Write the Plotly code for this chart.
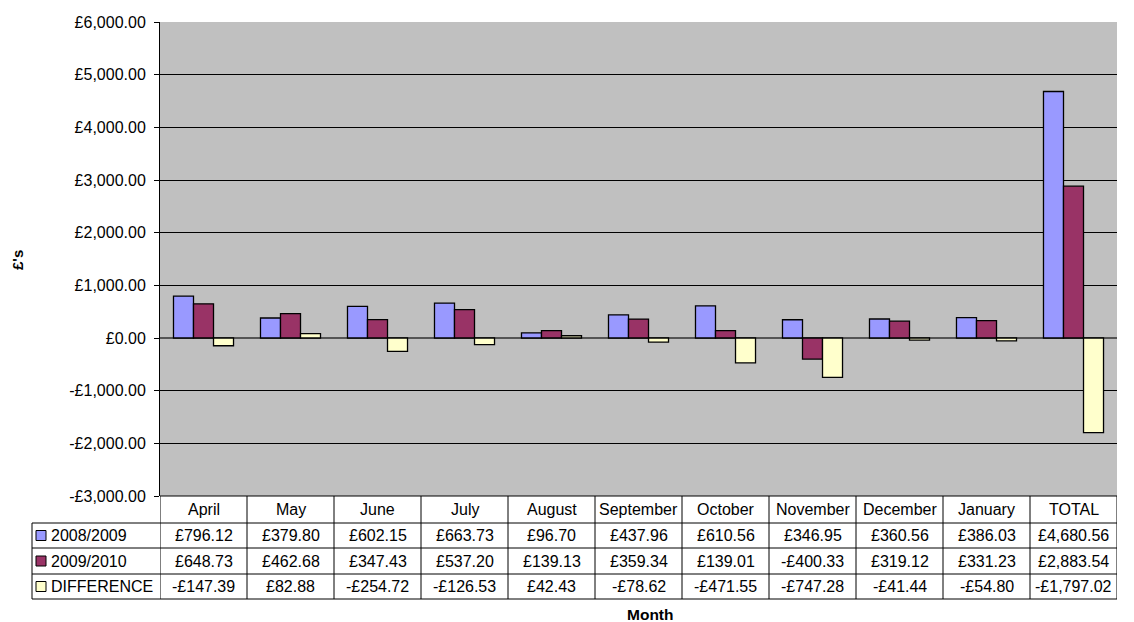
import plotly.graph_objects as go

months = ["April", "May", "June", "July", "August", "September", "October",
          "November", "December", "January", "TOTAL"]
y0809 = [796.12, 379.80, 602.15, 663.73, 96.70, 437.96, 610.56, 346.95, 360.56, 386.03, 4680.56]
y0910 = [648.73, 462.68, 347.43, 537.20, 139.13, 359.34, 139.01, -400.33, 319.12, 331.23, 2883.54]
ydiff = [-147.39, 82.88, -254.72, -126.53, 42.43, -78.62, -471.55, -747.28, -41.44, -54.80, -1797.02]
series_names = ["2008/2009", "2009/2010", "DIFFERENCE"]
colors = ["#9999FF", "#993366", "#FFFFCC"]
ytick_vals = [-3000, -2000, -1000, 0, 1000, 2000, 3000, 4000, 5000, 6000]


def gbp(v):
    s = "£{:,.2f}".format(abs(v))
    return "-" + s if v < 0 else s


W, H = 1134, 622
PL, PR, PT, PB = 160, 1117, 22, 496  # plot area in page pixels
L, R, T, B = PL, W - PR, PT, H - PB
PW, PH = PR - PL, PB - PT
FONT = "Liberation Sans, Arial, sans-serif"
FS = 16


def px_x(px):
    return (px - PL) / PW


def px_y(py):
    return (PB - py) / PH


fig = go.Figure()
for name, vals, col in zip(series_names, [y0809, y0910, ydiff], colors):
    fig.add_trace(go.Bar(x=months, y=vals, name=name, marker_color=col,
                         marker_line_color="black", marker_line_width=1.3))

shapes = []
annotations = []

row_edges = [496, 523, 548, 574, 599]
left_px = 32
n = len(months)
line = dict(color="black", width=1)

shapes.append(dict(type="line", xref="paper", yref="paper", x0=0, x1=1,
                   y0=px_y(row_edges[0]), y1=px_y(row_edges[0]), line=line))
for e in row_edges[1:]:
    shapes.append(dict(type="line", xref="paper", yref="paper", x0=px_x(left_px), x1=1,
                       y0=px_y(e), y1=px_y(e), line=line))
for i in range(n + 1):
    shapes.append(dict(type="line", xref="x", yref="paper", x0=i - 0.5, x1=i - 0.5,
                       y0=px_y(row_edges[0]), y1=px_y(row_edges[-1]), line=line))
shapes.append(dict(type="line", xref="paper", yref="paper", x0=px_x(left_px), x1=px_x(left_px),
                   y0=px_y(row_edges[1]), y1=px_y(row_edges[-1]), line=line))

hc = (row_edges[0] + row_edges[1]) / 2
for m in months:
    annotations.append(dict(x=m, y=px_y(hc), xref="x", yref="paper", text=m, showarrow=False,
                            font=dict(size=FS, color="black", family=FONT), yanchor="middle"))

for r, (name, vals, col) in enumerate(zip(series_names, [y0809, y0910, ydiff], colors)):
    cy = (row_edges[r + 1] + row_edges[r + 2]) / 2
    shapes.append(dict(type="rect", xref="paper", yref="paper",
                       x0=px_x(36), x1=px_x(46), y0=px_y(cy + 5), y1=px_y(cy - 5),
                       fillcolor=col, line=dict(color="black", width=1)))
    annotations.append(dict(x=px_x(49), y=px_y(cy), xref="paper", yref="paper", text=name,
                            showarrow=False, xanchor="left", yanchor="middle",
                            font=dict(size=FS, color="black", family=FONT)))
    for m, v in zip(months, vals):
        annotations.append(dict(x=m, y=px_y(cy), xref="x", yref="paper", text=gbp(v),
                                showarrow=False, yanchor="middle",
                                font=dict(size=FS, color="black", family=FONT)))

annotations.append(dict(x=px_x(17), y=px_y(260), xref="paper", yref="paper", text="<b>£'s</b>",
                        textangle=-90, showarrow=False, xanchor="center", yanchor="middle",
                        font=dict(size=15, color="black", family=FONT)))
annotations.append(dict(x=px_x(650), y=px_y(614), xref="paper", yref="paper", text="<b>Month</b>",
                        showarrow=False, yanchor="middle",
                        font=dict(size=15.5, color="black", family=FONT)))

fig.update_layout(
    width=W, height=H,
    margin=dict(l=L, r=R, t=T, b=B, pad=0),
    paper_bgcolor="white", plot_bgcolor="#C0C0C0",
    barmode="group", bargap=0.31, bargroupgap=0,
    showlegend=False,
    font=dict(family=FONT, size=FS, color="black"),
    shapes=shapes, annotations=annotations,
    xaxis=dict(showticklabels=False, ticks="", showgrid=False, zeroline=False,
               range=[-0.5, n - 0.5], fixedrange=True),
    yaxis=dict(range=[-3000, 6000], tickvals=ytick_vals,
               ticktext=[gbp(v) for v in ytick_vals],
               showgrid=True, gridcolor="#000000", gridwidth=1,
               zeroline=True, zerolinecolor="#555555", zerolinewidth=1.5,
               showline=True, linecolor="black", linewidth=1,
               ticks="outside", ticklen=5, tickcolor="black", ticklabelstandoff=5,
               tickfont=dict(size=FS, color="black", family=FONT)),
)

fig.write_html("out.html", config={"displayModeBar": False},
               post_script="document.body.style.margin='0';document.body.style.overflow='hidden';")
